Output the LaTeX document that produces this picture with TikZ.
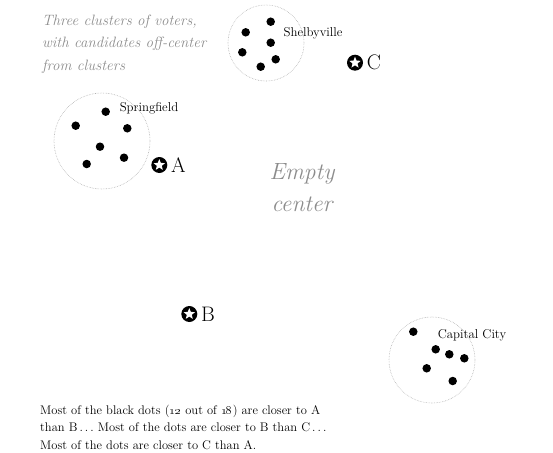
\documentclass[tikz,border=0pt]{standalone}
\usepackage{tikz}
\usetikzlibrary{positioning, shapes.geometric}

\tikzset{
  voter/.style={circle, fill=black, minimum size=8.5pt, inner sep=0pt},
  cluster/.style={circle, draw=black!30, densely dotted, line width=0.6pt, inner sep=0pt},
  candidate/.style={circle, fill=black, minimum size=16pt, inner sep=0pt,
    path picture={\node[star, star points=5, star point ratio=2.3, fill=white, minimum size=12pt, inner sep=0pt]
      at (path picture bounding box.center) {};}},
  cand label/.style={font=\fontsize{21}{24}\selectfont, inner sep=0pt},
  town/.style={font=\fontsize{12.8}{14}\selectfont, inner sep=0pt},
  note/.style={font=\itshape\fontsize{15}{22.5}\selectfont, text=black!45, align=left, inner sep=0pt}
}

\begin{document}
\begin{tikzpicture}[x=1pt, y=-1pt]
				\useasboundingbox (0,0) rectangle (553,452);

				% clusters
				\node [cluster, minimum size=76pt] (shelby) at (266,43) {};
				\node [cluster, minimum size=96pt] (spring) at (102,141) {};
				\node [cluster, minimum size=86pt] (capital) at (432,360) {};

				% Shelbyville voters
				\node [voter] (s1) at (270.7,21.7) {};
				\node [voter] (s2) at (245.7,32.3) {};
				\node [voter] (s3) at (270.7,42.7) {};
				\node [voter] (s4) at (242.3,52.3) {};
				\node [voter] (s5) at (275.7,59.3) {};
				\node [voter] (s6) at (260.7,66.7) {};
				\node [town] (shelbyname) at (313,33) {Shelbyville};

				% Springfield voters
				\node [voter] (p1) at (105.7,111.7) {};
				\node [voter] (p2) at (75.7,125.7) {};
				\node [voter] (p3) at (127.3,128.3) {};
				\node [voter] (p4) at (100,146.7) {};
				\node [voter] (p5) at (124,157.7) {};
				\node [voter] (p6) at (86.7,164) {};
				\node [town] (springname) at (149,108) {Springfield};

				% Capital City voters
				\node [voter] (c1) at (413.3,331.7) {};
				\node [voter] (c2) at (435.7,349.3) {};
				\node [voter] (c3) at (449.3,354.3) {};
				\node [voter] (c4) at (464.3,358.3) {};
				\node [voter] (c5) at (426.7,368.3) {};
				\node [voter] (c6) at (452.7,381) {};
				\node [town] (capitalname) at (472,335) {Capital City};

				% candidates
				\node [candidate] (candA) at (159.3,165) {};
				\node [cand label, right=3.5pt of candA] (labA) {A};
				\node [candidate] (candB) at (189.3,314) {};
				\node [cand label, right=3.5pt of candB] (labB) {B};
				\node [candidate] (candC) at (355,62.7) {};
				\node [cand label, right=3.5pt of candC] (labC) {C};

				% notes
				\node [note, anchor=north west] (caption) at (42,14.5) {Three clusters of voters,\\with candidates off-center\\from clusters};
				\node [note, align=center, font=\itshape\fontsize{23.5}{32}\selectfont] (empty) at (302,188) {Empty\\center};
				\node [anchor=north west, align=left, inner sep=0pt, font=\fontsize{12.5}{17.5}\selectfont] (summary) at (40,404.5)
					{Most of the black dots (\oldstylenums{12} out of \oldstylenums{18}) are closer to A\\
					 than B\,.\,.\,.\ Most of the dots are closer to B than C\,.\,.\,.\\
					 Most of the dots are closer to C than A.};
			\end{tikzpicture}
\end{document}
